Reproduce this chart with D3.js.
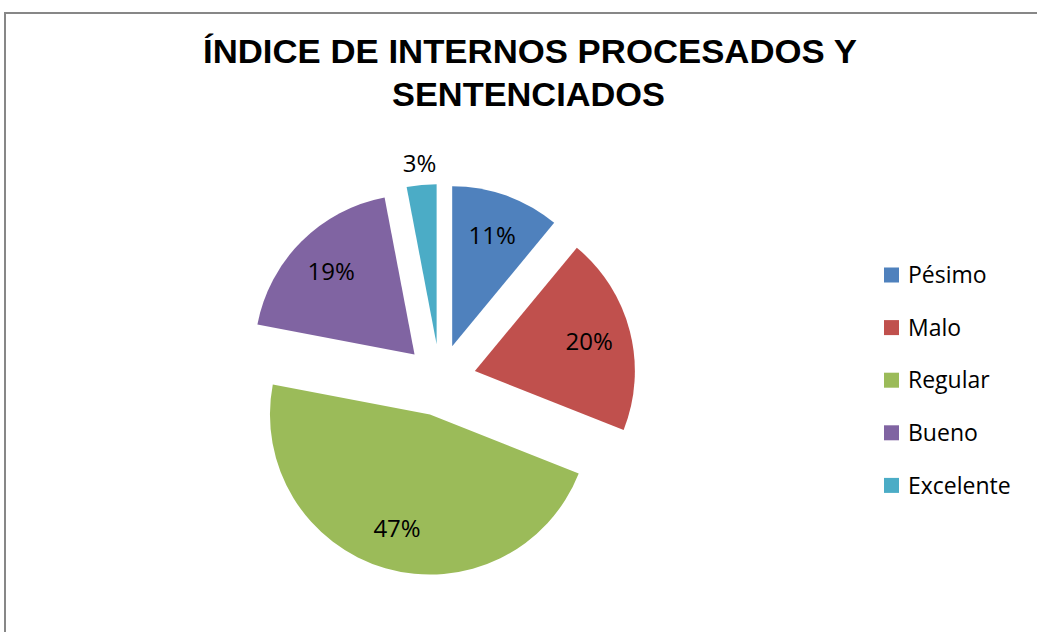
<!DOCTYPE html>
<html><head><meta charset="utf-8">
<script src="https://cdn.jsdelivr.net/npm/d3@7/dist/d3.min.js"></script>
<style>html,body{margin:0;padding:0;background:#fff;overflow:hidden}</style>
</head><body>
<script>
const categories = ["Pésimo", "Malo", "Regular", "Bueno", "Excelente"];
const values = [11, 20, 47, 19, 3];
const colors = ["#4F81BD", "#C0504D", "#9BBB59", "#8064A2", "#4BACC6"];
const titleLines = ["ÍNDICE DE INTERNOS PROCESADOS Y", "SENTENCIADOS"];
const titleWidths = [654, 273];

const W = 1037, H = 632;
const svg = d3.select("body").append("svg").attr("width", W).attr("height", H);

svg.append("rect").attr("x", 5).attr("y", 13).attr("width", 1100).attr("height", 700)
  .attr("fill", "#fff").attr("stroke", "#878787").attr("stroke-width", 2);

svg.selectAll("text.title").data(titleLines).enter().append("text")
  .attr("class", "title")
  .attr("x", (d, i) => i === 0 ? 530 : 528.5).attr("y", (d, i) => 63 + i * 43)
  .attr("text-anchor", "middle")
  .attr("font-family", "Liberation Sans, Arial, sans-serif")
  .attr("font-weight", "bold").attr("font-size", 33)
  .attr("textLength", (d, i) => titleWidths[i])
  .attr("lengthAdjust", "spacingAndGlyphs")
  .attr("fill", "#000")
  .text(d => d);

const cx = 440, cy = 380, r = 160, explode = 36;
const pie = d3.pie().sort(null).value(d => d.v);
const arcs = pie(categories.map((c, i) => ({c, v: values[i], col: colors[i]})));
const arc = d3.arc().innerRadius(0).outerRadius(r);
const total = d3.sum(values);

const g = svg.append("g").attr("transform", `translate(${cx},${cy})`);
const slices = g.selectAll("g.slice").data(arcs).enter().append("g")
  .attr("transform", d => {
    const m = (d.startAngle + d.endAngle) / 2;
    return `translate(${Math.sin(m) * explode},${-Math.cos(m) * explode})`;
  });
slices.append("path").attr("d", arc).attr("fill", d => d.data.col);
slices.append("text")
  .attr("transform", d => {
    const m = (d.startAngle + d.endAngle) / 2;
    const lr = d.data.v / total < 0.05 ? r + 22 : 118;
    return `translate(${Math.sin(m) * lr},${-Math.cos(m) * lr})`;
  })
  .attr("text-anchor", "middle").attr("dy", "0.36em")
  .attr("font-family", "Open Sans, sans-serif").attr("font-size", 24)
  .attr("fill", "#000")
  .text(d => Math.round(d.data.v / total * 100) + "%");

const leg = svg.selectAll("g.leg").data(categories).enter().append("g")
  .attr("transform", (d, i) => `translate(884,${275 + i * 52.6})`);
leg.append("rect").attr("x", 0).attr("y", -7.5).attr("width", 15).attr("height", 15)
  .attr("fill", (d, i) => colors[i]);
leg.append("text").attr("x", 24).attr("dy", "0.36em")
  .attr("font-family", "Open Sans, sans-serif").attr("font-size", 23)
  .attr("fill", "#000").text(d => d);
</script>
</body></html>
